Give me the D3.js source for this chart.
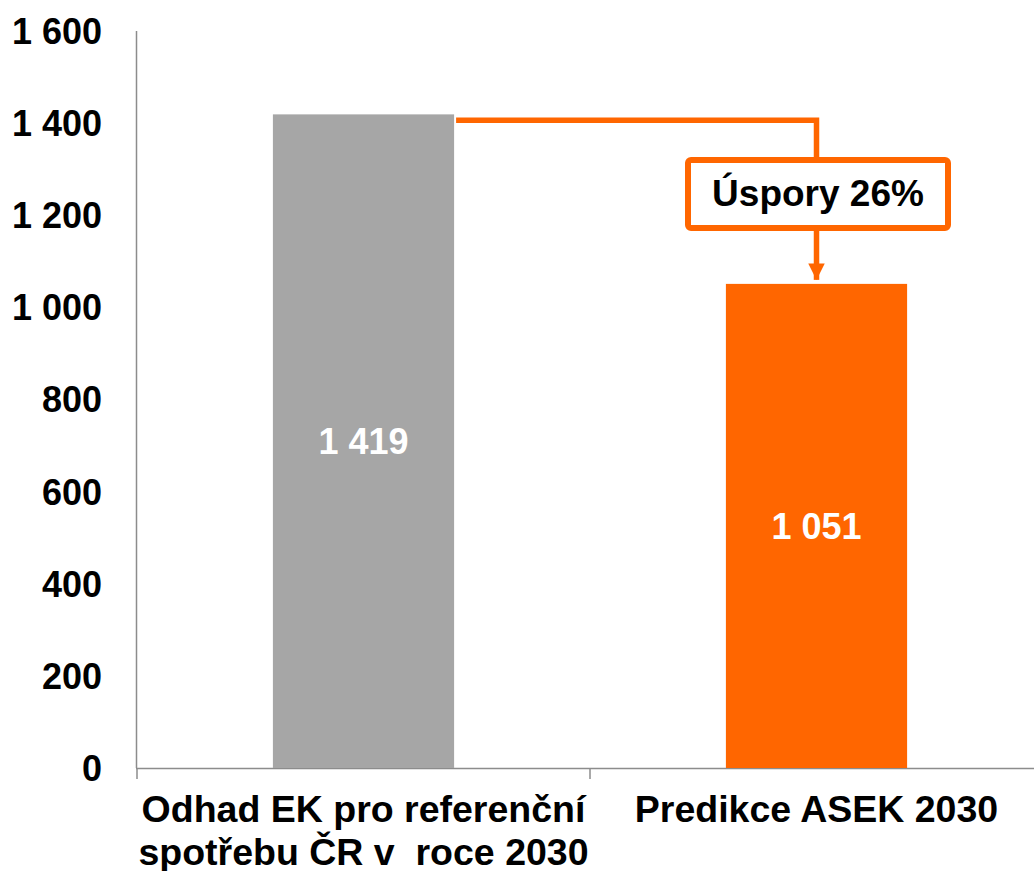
<!DOCTYPE html>
<html>
<head>
<meta charset="utf-8">
<script src="https://cdn.jsdelivr.net/npm/d3@7"></script>
<style>
  body { margin: 0; background: #fff; }
  svg { display: block; font-family: "Liberation Sans", Arial, sans-serif; font-weight: bold; }
</style>
</head>
<body>
<script>
const categories = [
  ['Odhad EK pro referenční', 'spotřebu ČR v  roce 2030'],
  ['Predikce ASEK 2030'],
];
const values = [1419, 1051];
const barColors = ['#a6a6a6', '#ff6600'];
const yTicks = [0, 200, 400, 600, 800, 1000, 1200, 1400, 1600];
const savingsLabel = 'Úspory 26%';

const width = 1034;
const height = 871;
const orange = '#ff6600';

const fmt = d3.formatLocale({ thousands: ' ', grouping: [3], decimal: ',', currency: ['', ''] }).format(',');

const svg = d3.select('body').append('svg')
  .attr('width', width)
  .attr('height', height);

const x = d3.scaleBand()
  .domain(d3.range(values.length))
  .range([137, 1043])
  .paddingInner(0.6)
  .paddingOuter(0.3);

const y = d3.scaleLinear()
  .domain([0, 1600])
  .range([768, 31]);

// y axis line + labels
svg.append('line')
  .attr('x1', 136.5).attr('x2', 136.5)
  .attr('y1', y(1600)).attr('y2', y(0))
  .attr('stroke', '#8c8c8c').attr('stroke-width', 1.5);

svg.append('g')
  .selectAll('text')
  .data(yTicks)
  .enter().append('text')
    .attr('x', 102)
    .attr('y', d => y(d))
    .attr('dy', '0.36em')
    .attr('text-anchor', 'end')
    .attr('font-size', 36)
    .attr('fill', '#000')
    .text(d => fmt(d));

// x axis
svg.append('line')
  .attr('x1', 136).attr('x2', width)
  .attr('y1', 768.5).attr('y2', 768.5)
  .attr('stroke', '#8c8c8c').attr('stroke-width', 1.5);

svg.selectAll('.xtick')
  .data([137, (x(0) + x.bandwidth() + x(1)) / 2])
  .enter().append('line')
    .attr('class', 'xtick')
    .attr('x1', d => d).attr('x2', d => d)
    .attr('y1', 768).attr('y2', 779)
    .attr('stroke', '#8c8c8c').attr('stroke-width', 1.5);

// bars
svg.selectAll('.bar')
  .data(values)
  .enter().append('rect')
    .attr('class', 'bar')
    .attr('x', (d, i) => x(i))
    .attr('y', d => y(d))
    .attr('width', x.bandwidth())
    .attr('height', d => y(0) - y(d))
    .attr('fill', (d, i) => barColors[i]);

// value labels
svg.selectAll('.val')
  .data(values)
  .enter().append('text')
    .attr('class', 'val')
    .attr('x', (d, i) => x(i) + x.bandwidth() / 2)
    .attr('y', d => (y(d) + y(0)) / 2)
    .attr('dy', '0.36em')
    .attr('text-anchor', 'middle')
    .attr('font-size', 36)
    .attr('fill', '#fff')
    .text(d => fmt(d));

// category labels
const cat = svg.selectAll('.cat')
  .data(categories)
  .enter().append('text')
    .attr('class', 'cat')
    .attr('x', (d, i) => x(i) + x.bandwidth() / 2)
    .attr('y', 822)
    .attr('text-anchor', 'middle')
    .attr('font-size', 37.5)
    .attr('fill', '#000')
    .style('white-space', 'pre');

cat.selectAll('tspan')
  .data(d => d)
  .enter().append('tspan')
    .attr('x', function () { return d3.select(this.parentNode).attr('x'); })
    .attr('dy', (d, i) => i === 0 ? 0 : 43)
    .text(d => d);

// savings connector
const cx = x(1) + x.bandwidth() / 2;
const lineY = y(values[0]) + 6;
const boxTop = 160;
const boxBottom = 228;
const boxLeft = 688;
const boxRight = 948;

svg.append('defs').append('marker')
  .attr('id', 'arrowhead')
  .attr('viewBox', '0 0 10 10')
  .attr('refX', 10)
  .attr('refY', 5)
  .attr('markerWidth', 3)
  .attr('markerHeight', 3)
  .attr('markerUnits', 'strokeWidth')
  .attr('orient', 'auto')
  .append('path')
    .attr('d', 'M0,0 L10,5 L0,10 Z')
    .attr('fill', orange);

svg.append('path')
  .attr('d', `M${x(0) + x.bandwidth() + 2},${lineY} H${cx} V${boxTop}`)
  .attr('fill', 'none')
  .attr('stroke', orange)
  .attr('stroke-width', 5.5);

svg.append('line')
  .attr('x1', cx).attr('x2', cx)
  .attr('y1', boxBottom).attr('y2', y(values[1]) - 4)
  .attr('stroke', orange)
  .attr('stroke-width', 5.5)
  .attr('marker-end', 'url(#arrowhead)');

svg.append('rect')
  .attr('x', boxLeft).attr('y', boxTop)
  .attr('width', boxRight - boxLeft)
  .attr('height', boxBottom - boxTop)
  .attr('rx', 3)
  .attr('fill', '#fff')
  .attr('stroke', orange)
  .attr('stroke-width', 6);

svg.append('text')
  .attr('x', (boxLeft + boxRight) / 2)
  .attr('y', 206)
  .attr('text-anchor', 'middle')
  .attr('font-size', 37)
  .attr('fill', '#000')
  .text(savingsLabel);
</script>
</body>
</html>
